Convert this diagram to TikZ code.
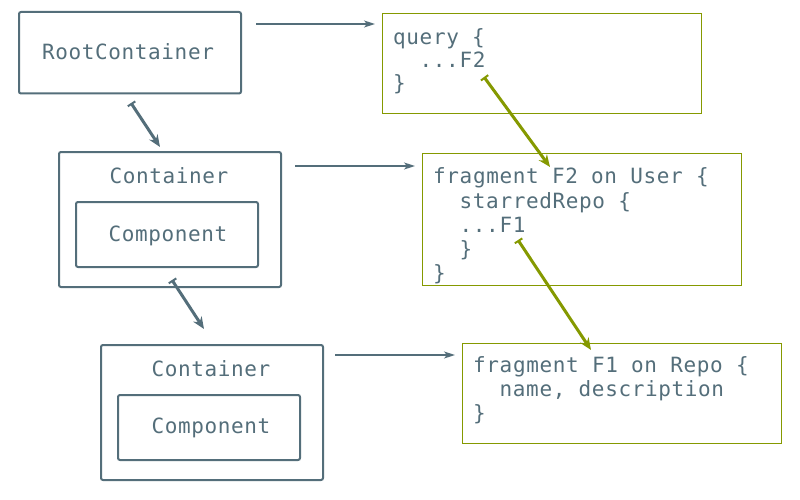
\documentclass[tikz,border=0pt]{standalone}
\usepackage{fontspec}
\usetikzlibrary{arrows.meta}
\newfontfamily\codefont[LetterSpace=3]{DejaVu Sans Mono}
\definecolor{slate}{RGB}{84,110,122}
\definecolor{fragolive}{RGB}{133,153,0}
\begin{document}
\begin{tikzpicture}[x=1pt,y=-1pt,
  every node/.style={font=\codefont\fontsize{21}{24}\selectfont, text=slate},
  compbox/.style={draw=slate, line width=2pt, rounded corners=2pt, inner sep=0pt},
  codebox/.style={draw=fragolive, line width=1pt, inner sep=0pt},
  codeline/.style={anchor=base west, inner sep=0pt},
  captext/.style={anchor=base, inner sep=0pt},
  feed/.style={draw=slate, line width=1.5pt, -{Stealth[length=11pt,width=7pt,inset=3pt]}},
  nest/.style={draw=slate, line width=3pt, {Bar[width=9pt,line width=2pt]}-{Stealth[length=12pt,width=10pt]}},
  spreadarrow/.style={draw=fragolive, line width=3pt, {Bar[width=9pt,line width=2pt]}-{Stealth[length=12pt,width=10pt]}},
]
\useasboundingbox (0,0) rectangle (800,500);

% component tree
\node[compbox, minimum width=222pt, minimum height=81.5pt] (root) at (130,52.75) {};
\node[captext] (rootname) at (128,59.3) {RootContainer};

\node[compbox, minimum width=222pt, minimum height=135pt] (contA) at (170,219.5) {};
\node[captext] (contAname) at (169,183) {Container};
\node[compbox, minimum width=182pt, minimum height=65pt] (compA) at (167,234.5) {};
\node[captext] (compAname) at (168,241) {Component};

\node[compbox, minimum width=222pt, minimum height=135pt] (contB) at (212,412.5) {};
\node[captext] (contBname) at (211,376) {Container};
\node[compbox, minimum width=182pt, minimum height=65pt] (compB) at (209,427.5) {};
\node[captext] (compBname) at (211,433) {Component};

% queries and fragments
\node[codebox, minimum width=319.4pt, minimum height=99.6pt] (query) at (542,63.5) {};
\node[codeline] (q1) at (393,45) {query \{};
\node[codeline] (q2) at (419.5,68) {...F2};
\node[codeline] (q3) at (393,91) {\}};

\node[codebox, minimum width=319.4pt, minimum height=132pt] (fragB) at (582,219) {};
\node[codeline] (b1) at (433,183) {fragment F2 on User \{};
\node[codeline] (b2) at (459.5,208) {starredRepo \{};
\node[codeline] (b3) at (459.5,232.5) {...F1};
\node[codeline] (b4) at (459.5,256) {\}};
\node[codeline] (b5) at (433,280) {\}};

\node[codebox, minimum width=319.4pt, minimum height=100pt] (fragA) at (622,393.3) {};
\node[codeline] (a1) at (473,372) {fragment F1 on Repo \{};
\node[codeline] (a2) at (499.5,396) {name, description};
\node[codeline] (a3) at (473,420) {\}};

% connector ends
\coordinate (rootout) at (256,24);
\coordinate (queryin) at (375,24);
\coordinate (contAout) at (295,166);
\coordinate (fragBin) at (415,166);
\coordinate (contBout) at (335,355);
\coordinate (fragAin) at (455,355);

\coordinate (rootdown) at (131,103);
\coordinate (contAtop) at (160,147);
\coordinate (contAdown) at (172,280);
\coordinate (contBtop) at (204,329);

\coordinate (spreadF2) at (484,77);
\coordinate (fragBhead) at (550,167);
\coordinate (spreadF1) at (518,240);
\coordinate (fragAhead) at (591,350);

% component -> query / fragment
\draw[feed] (rootout) -- (queryin);
\draw[feed] (contAout) -- (fragBin);
\draw[feed] (contBout) -- (fragAin);

% nesting of containers
\draw[nest] (rootdown) -- (contAtop);
\draw[nest] (contAdown) -- (contBtop);

% fragment spreads
\draw[spreadarrow] (spreadF2) -- (fragBhead);
\draw[spreadarrow] (spreadF1) -- (fragAhead);
\end{tikzpicture}
\end{document}
